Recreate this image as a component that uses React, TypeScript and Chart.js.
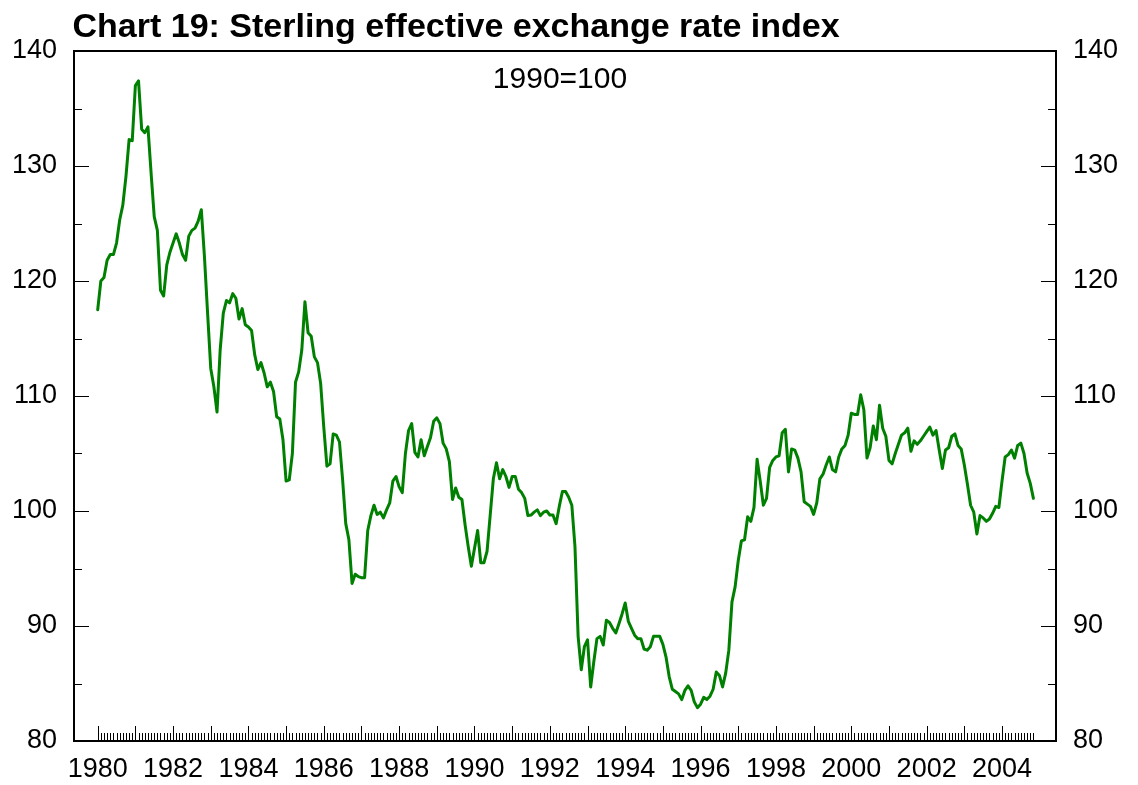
import React, { useEffect, useRef } from "react";
import { Chart, registerables } from "chart.js";

Chart.register(...registerables);

const TITLE = "Chart 19: Sterling effective exchange rate index";
const SUBTITLE = "1990=100";
const START_YEAR = 1980;
const X_MIN = 1979.371;
const X_MAX = 2005.433;
const X_LABEL_YEARS = [1980, 1982, 1984, 1986, 1988, 1990, 1992, 1994, 1996, 1998, 2000, 2002, 2004];
const Y_MIN = 80;
const Y_MAX = 140;
const Y_STEP = 10;
const Y_MINOR_STEP = 5;

// Monthly index values, Jan 1980 - Nov 2004
const ERI_VALUES = [
  // 1980
  117.5, 120.0, 120.3, 121.8, 122.3, 122.3, 123.3, 125.3, 126.6, 129.1, 132.3, 132.2,
  // 1981
  137.0, 137.4, 133.2, 132.9, 133.4, 129.4, 125.6, 124.4, 119.2, 118.7, 121.4, 122.5,
  // 1982
  123.3, 124.1, 123.3, 122.3, 121.8, 123.9, 124.4, 124.6, 125.2, 126.2, 122.1, 117.2,
  // 1983
  112.4, 110.8, 108.6, 114.0, 117.2, 118.3, 118.1, 118.9, 118.5, 116.7, 117.6, 116.2,
  // 1984
  116.0, 115.7, 113.6, 112.3, 112.9, 112.0, 110.8, 111.2, 110.4, 108.2, 108.0, 106.2,
  // 1985
  102.6, 102.7, 105.0, 111.2, 112.1, 114.0, 118.2, 115.5, 115.2, 113.4, 112.9, 111.1,
  // 1986
  107.3, 103.9, 104.1, 106.7, 106.6, 106.0, 102.7, 98.9, 97.5, 93.7, 94.5, 94.3,
  // 1987
  94.2, 94.2, 98.3, 99.6, 100.5, 99.7, 99.9, 99.4, 100.1, 100.7, 102.6, 103.0,
  // 1988
  102.1, 101.6, 105.0, 107.0, 107.6, 105.1, 104.7, 106.2, 104.8, 105.6, 106.4, 107.8,
  // 1989
  108.1, 107.6, 105.9, 105.4, 104.3, 101.0, 102.0, 101.2, 101.0, 98.8, 96.9, 95.2,
  // 1990
  96.75, 98.3, 95.5, 95.5, 96.5, 99.65, 102.8, 104.2, 102.8, 103.6, 103.0, 102.05,
  // 1991
  103.0, 103.0, 101.9, 101.6, 101.1, 99.6, 99.65, 99.9, 100.1, 99.6, 99.9, 100.0,
  // 1992
  99.65, 99.65, 98.9, 100.4, 101.7, 101.7, 101.2, 100.5, 96.9, 89.1, 86.2, 88.2,
  // 1993
  88.8, 84.7, 86.9, 88.9, 89.1, 88.35, 90.5, 90.3, 89.8, 89.4, 90.2, 91.05,
  // 1994
  92.0, 90.4, 89.8, 89.2, 88.9, 88.9, 88.0, 87.9, 88.2, 89.1, 89.1, 89.1,
  // 1995
  88.4, 87.3, 85.6, 84.5, 84.3, 84.1, 83.6, 84.4, 84.8, 84.4, 83.4, 82.9,
  // 1996
  83.2, 83.8, 83.6, 83.9, 84.5, 86.0, 85.7, 84.7, 85.9, 87.9, 92.1, 93.4,
  // 1997
  95.7, 97.4, 97.5, 99.5, 99.1, 100.3, 104.5, 102.6, 100.5, 101.1, 103.8, 104.4,
  // 1998
  104.7, 104.8, 106.8, 107.1, 103.4, 105.4, 105.3, 104.6, 103.4, 100.8, 100.6, 100.4,
  // 1999
  99.7, 100.7, 102.8, 103.2, 104.0, 104.7, 103.6, 103.4, 104.7, 105.4, 105.7, 106.6,
  // 2000
  108.5, 108.4, 108.4, 110.1, 108.8, 104.6, 105.5, 107.4, 106.2, 109.2, 107.2, 106.5,
  // 2001
  104.4, 104.1, 105.0, 105.8, 106.6, 106.8, 107.2, 105.2, 106.1, 105.8, 106.1, 106.5,
  // 2002
  106.9, 107.3, 106.6, 107.0, 105.3, 103.7, 105.3, 105.5, 106.5, 106.7, 105.7, 105.4,
  // 2003
  104.0, 102.3, 100.5, 99.9, 98.0, 99.6, 99.4, 99.1, 99.3, 99.8, 100.4, 100.3,
  // 2004
  102.6, 104.7, 104.9, 105.3, 104.6, 105.7, 105.9, 105.0, 103.3, 102.4, 101.1,
];

const FONT_FAMILY = '"Liberation Sans", Arial, Helvetica, sans-serif';
const LINE_COLOR = "#008000";

const framePlugin = {
  id: "frameTicksTitle",
  afterDatasetsDraw(chart: any) {
    const { ctx, chartArea: a, scales } = chart;
    const xs = scales.x;
    const ys = scales.y;
    ctx.save();
    ctx.strokeStyle = "#000";
    ctx.lineWidth = 1;
    ctx.beginPath();
    for (let i = 0; i < ERI_VALUES.length; i++) {
      const px = Math.round(xs.getPixelForValue(START_YEAR + i / 12)) + 0.5;
      const len = i % 12 === 0 ? 15 : 8;
      ctx.moveTo(px, a.bottom);
      ctx.lineTo(px, a.bottom - len);
    }
    for (let v = Y_MIN + Y_MINOR_STEP; v < Y_MAX; v += Y_MINOR_STEP) {
      const py = Math.round(ys.getPixelForValue(v)) + 0.5;
      const len = v % Y_STEP === 0 ? 15 : 8;
      ctx.moveTo(a.left, py);
      ctx.lineTo(a.left + len, py);
      ctx.moveTo(a.right, py);
      ctx.lineTo(a.right - len, py);
    }
    ctx.stroke();
    ctx.lineWidth = 2;
    ctx.strokeRect(a.left, a.top, a.right - a.left, a.bottom - a.top);

    ctx.fillStyle = "#000";
    ctx.textBaseline = "alphabetic";
    ctx.textAlign = "left";
    ctx.font = `bold 34px ${FONT_FAMILY}`;
    ctx.fillText(TITLE, a.left - 1.5, 37);
    ctx.textAlign = "center";
    ctx.font = `30px ${FONT_FAMILY}`;
    ctx.fillText(SUBTITLE, 560, 88);
    ctx.restore();
  },
};

export default function App() {
  const canvasRef = useRef<HTMLCanvasElement | null>(null);

  useEffect(() => {
    const canvas = canvasRef.current;
    if (!canvas) return;
    const points = ERI_VALUES.map((v, i) => ({ x: START_YEAR + i / 12, y: v }));
    const yAxis = (position: "left" | "right", width: number) => ({
      type: "linear" as const,
      position,
      min: Y_MIN,
      max: Y_MAX,
      ticks: {
        stepSize: Y_STEP,
        padding: 17,
        color: "#000",
        font: { size: 27, family: FONT_FAMILY, lineHeight: 1 },
      },
      grid: { display: false, drawTicks: false },
      border: { display: false },
      afterFit: (s: any) => {
        s.width = width;
      },
    });
    const chart = new Chart(canvas, {
      type: "line",
      data: {
        datasets: [
          {
            data: points,
            borderColor: LINE_COLOR,
            borderWidth: 3,
            pointRadius: 0,
            tension: 0,
            borderJoinStyle: "round",
            borderCapStyle: "round",
            fill: false,
          },
        ],
      },
      options: {
        responsive: false,
        animation: false,
        devicePixelRatio: 1,
        layout: { padding: { top: 51, left: 0, right: 0, bottom: 0 } },
        plugins: {
          legend: { display: false },
          tooltip: { enabled: false },
          title: { display: false },
        },
        scales: {
          x: {
            type: "linear",
            position: "bottom",
            min: X_MIN,
            max: X_MAX,
            afterBuildTicks: (s: any) => {
              s.ticks = X_LABEL_YEARS.map((v) => ({ value: v }));
            },
            ticks: {
              autoSkip: false,
              maxRotation: 0,
              padding: 15,
              color: "#000",
              font: { size: 27, family: FONT_FAMILY, lineHeight: 1 },
              callback: (v: any) => String(v),
            },
            grid: { display: false, drawTicks: false },
            border: { display: false },
            afterFit: (s: any) => {
              s.height = 44;
            },
          },
          y: yAxis("left", 74),
          y2: yAxis("right", 82),
        },
      },
      plugins: [framePlugin],
    });
    return () => chart.destroy();
  }, []);

  return (
    <div style={{ position: "absolute", left: 0, top: 0, width: 1138, height: 785, background: "#fff" }}>
      <canvas ref={canvasRef} width={1138} height={785} style={{ width: 1138, height: 785, display: "block" }} />
    </div>
  );
}
